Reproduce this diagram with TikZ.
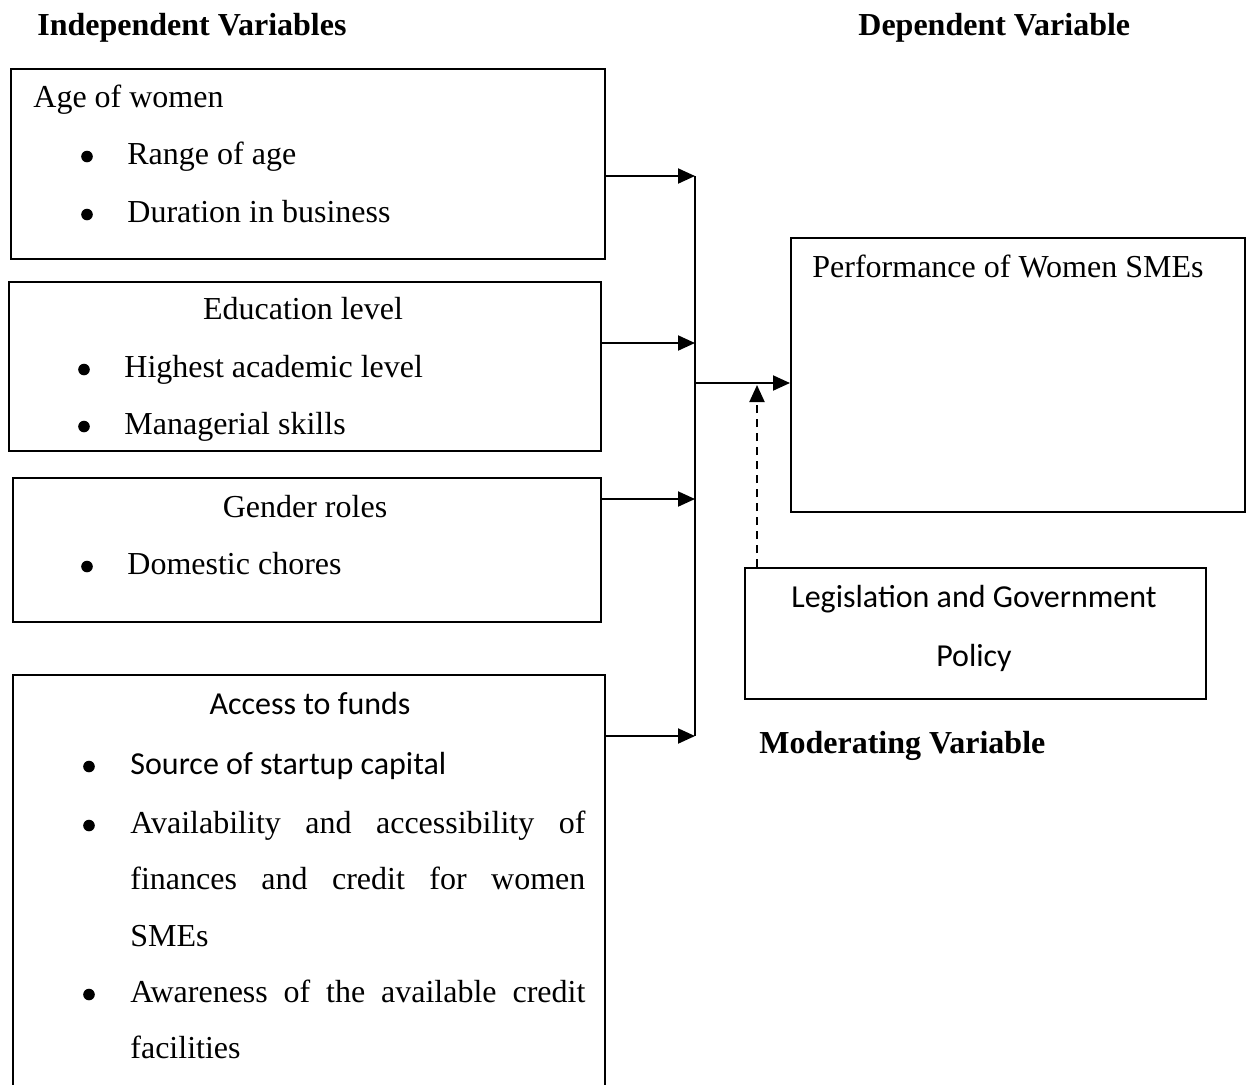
\documentclass[tikz,border=0pt]{standalone}
\usepackage{fontspec}
\setmainfont{Liberation Serif}
\newfontfamily\calibri{Carlito}
\usetikzlibrary{arrows.meta}

\begin{document}
\begin{tikzpicture}[x=0.5pt,y=-0.5pt]
\tikzstyle{every node}=[font=\fontsize{16}{19}\selectfont, inner sep=0pt]
\tikzstyle{box}=[draw, line width=0.75pt, anchor=north west]
\tikzstyle{txt}=[anchor=base west]
\tikzstyle{mid}=[anchor=base]
\tikzstyle{dot}=[circle, fill, minimum size=5.8pt, yshift=3.75pt]
\tikzstyle{head}=[anchor=base west, font=\fontsize{16}{19}\selectfont\bfseries]
\tikzstyle{cal}=[font=\fontsize{16}{19}\selectfont\calibri]
\tikzstyle{arr}=[line width=1pt, -{Triangle[length=8.5pt,width=7.5pt]}]

\clip (0,0) rectangle (1246,1084);

% headings
\node[head] (indep) at (37,35) {Independent Variables};
\node[head] (dep) at (858,35) {Dependent Variable};
\node[head] (moder) at (759,753) {Moderating Variable};

% boxes
\node[box, minimum width=297pt, minimum height=95pt] (age) at (10,68) {};
\node[box, minimum width=296pt, minimum height=84.5pt] (edu) at (8,281) {};
\node[box, minimum width=294pt, minimum height=72pt] (gender) at (12,477) {};
\node[box, minimum width=296pt, minimum height=250pt] (funds) at (12,674) {};
\node[box, minimum width=227pt, minimum height=137pt] (perf) at (790,237) {};
\node[box, minimum width=230.5pt, minimum height=65.5pt] (policy) at (744,567) {};

% age of women
\node[txt] (agehd) at (33,107) {Age of women};
\foreach \n/\y/\t in {range/164/Range of age, dur/222/Duration in business} {
  \node[dot] (dot\n) at (87,\y) {};
  \node[txt] (t\n) at (127,\y) {\t};
}

% education
\node[mid] (eduhd) at (303,319) {Education level};
\foreach \n/\y/\t in {acad/377/Highest academic level, skill/434/Managerial skills} {
  \node[dot] (dot\n) at (84,\y) {};
  \node[txt] (t\n) at (124,\y) {\t};
}

% gender roles
\node[mid] (genhd) at (305,517) {Gender roles};
\node[dot] (dotchore) at (87,574) {};
\node[txt] (tchore) at (127,574) {Domestic chores};

% access to funds
\node[mid,cal] (fundhd) at (310,714) {Access to funds};
\node[dot] (dotsrc) at (89,774) {};
\node[txt,cal] (tsrc) at (130,774) {Source of startup capital};
\node[dot] (dotavail) at (89,833) {};
\node[txt] (tavail) at (130,833) {\makebox[227.5pt][s]{Availability and accessibility of}};
\node[txt] (tfin) at (130,889) {\makebox[227.5pt][s]{finances and credit for women}};
\node[txt] (tsme) at (130,946) {SMEs};
\node[dot] (dotaware) at (89,1002) {};
\node[txt] (taware) at (130,1002) {\makebox[227.5pt][s]{Awareness of the available credit}};
\node[txt] (tfac) at (130,1058) {facilities};

% dependent and moderating
\node[txt] (perfhd) at (812,277) {Performance of Women SMEs};
\node[mid,cal] (leg) at (974,607) {Legislation and Government};
\node[mid,cal] (pol) at (974,666) {Policy};

% connectors
\coordinate (b1) at (695,176);
\coordinate (b2) at (695,343);
\coordinate (b3) at (695,499);
\coordinate (b4) at (695,736);
\coordinate (bj) at (695,383);

\draw[line width=0.75pt] (b1) -- (b4);
\foreach \s/\b in {age/b1, edu/b2, gender/b3, funds/b4}
  \draw[arr] (\s.east |- \b) -- (\b);
\draw[arr] (bj) -- (perf.west |- bj);
\draw[arr, dash pattern=on 4pt off 3pt]
  ([xshift=6.5pt]policy.north west) -- ([xshift=6.5pt,yshift=-1pt]policy.north west |- bj);
\end{tikzpicture}
\end{document}
